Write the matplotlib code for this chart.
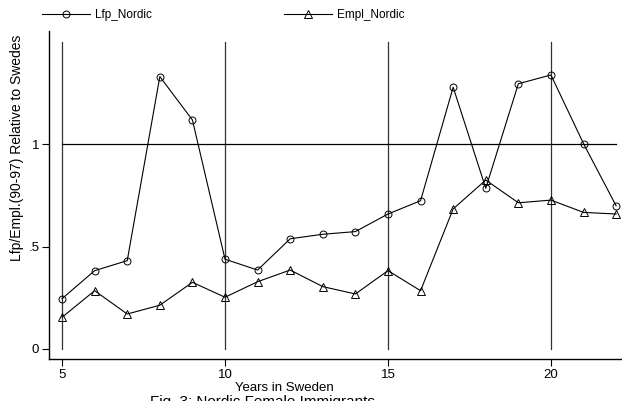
import numpy as np
import matplotlib.pyplot as plt

plt.rcParams['font.family'] = ['Liberation Sans', 'DejaVu Sans']

years = np.arange(5, 23)
lfp_nordic = [0.246, 0.383, 0.432, 1.332, 1.12, 0.439, 0.386, 0.539, 0.561, 0.574,
              0.66, 0.725, 1.28, 0.786, 1.297, 1.34, 1.004, 0.70]
empl_nordic = [0.155, 0.285, 0.171, 0.214, 0.326, 0.253, 0.329, 0.386, 0.305, 0.269,
               0.383, 0.285, 0.685, 0.826, 0.715, 0.728, 0.668, 0.66]
xlines = [5, 10, 15, 20]

fig = plt.figure(figsize=(6.22, 4.01), dpi=100)
ax = fig.add_axes([49/622, 42/401, 573/622, 328/401])

for xv in xlines:
    ax.plot([xv, xv], [0, 1.5], color='#333333', lw=0.9, zorder=1)
ax.plot([5, 22], [1, 1], color='black', lw=0.9, zorder=1)

l1, = ax.plot(years, lfp_nordic, color='black', lw=0.8, marker='o', ms=5,
              mfc='none', mec='black', mew=0.7, label='Lfp_Nordic')
l2, = ax.plot(years, empl_nordic, color='black', lw=0.8, marker='^', ms=5.5,
              mfc='none', mec='black', mew=0.7, label='Empl_Nordic')

ax.set_xlim(4.60, 22.18)
ax.set_ylim(-0.049, 1.555)
ax.set_xticks(xlines)
ax.set_yticks([0, 0.5, 1])
ax.set_yticklabels(['0', '.5', '1'])
ax.tick_params(length=5, width=0.8, labelsize=9.5, pad=2)
for s in ['top', 'right']:
    ax.spines[s].set_visible(False)
for s in ['left', 'bottom']:
    ax.spines[s].set_linewidth(1.0)

ax.set_ylabel('Lfp/Empl.(90-97) Relative to Swedes', fontsize=10)
ax.yaxis.set_label_coords(-0.043, 0.643)
fig.text(284/622, 1 - 388/401, 'Years in Sweden', ha='center', va='center', fontsize=9.5)
fig.text(150/622, 1 - 395/401, 'Fig. 3: Nordic Female Immigrants', ha='left', va='top', fontsize=11)

kw = dict(frameon=False, fontsize=8.5, handlelength=4.1, handletextpad=0.4,
          borderpad=0, borderaxespad=0, loc='center left')
fig.legend(handles=[l1], bbox_to_anchor=(42/622, 1 - 15/401), **kw)
fig.legend(handles=[l2], bbox_to_anchor=(284/622, 1 - 15/401), **kw)

fig.savefig('out.png', dpi=100)
